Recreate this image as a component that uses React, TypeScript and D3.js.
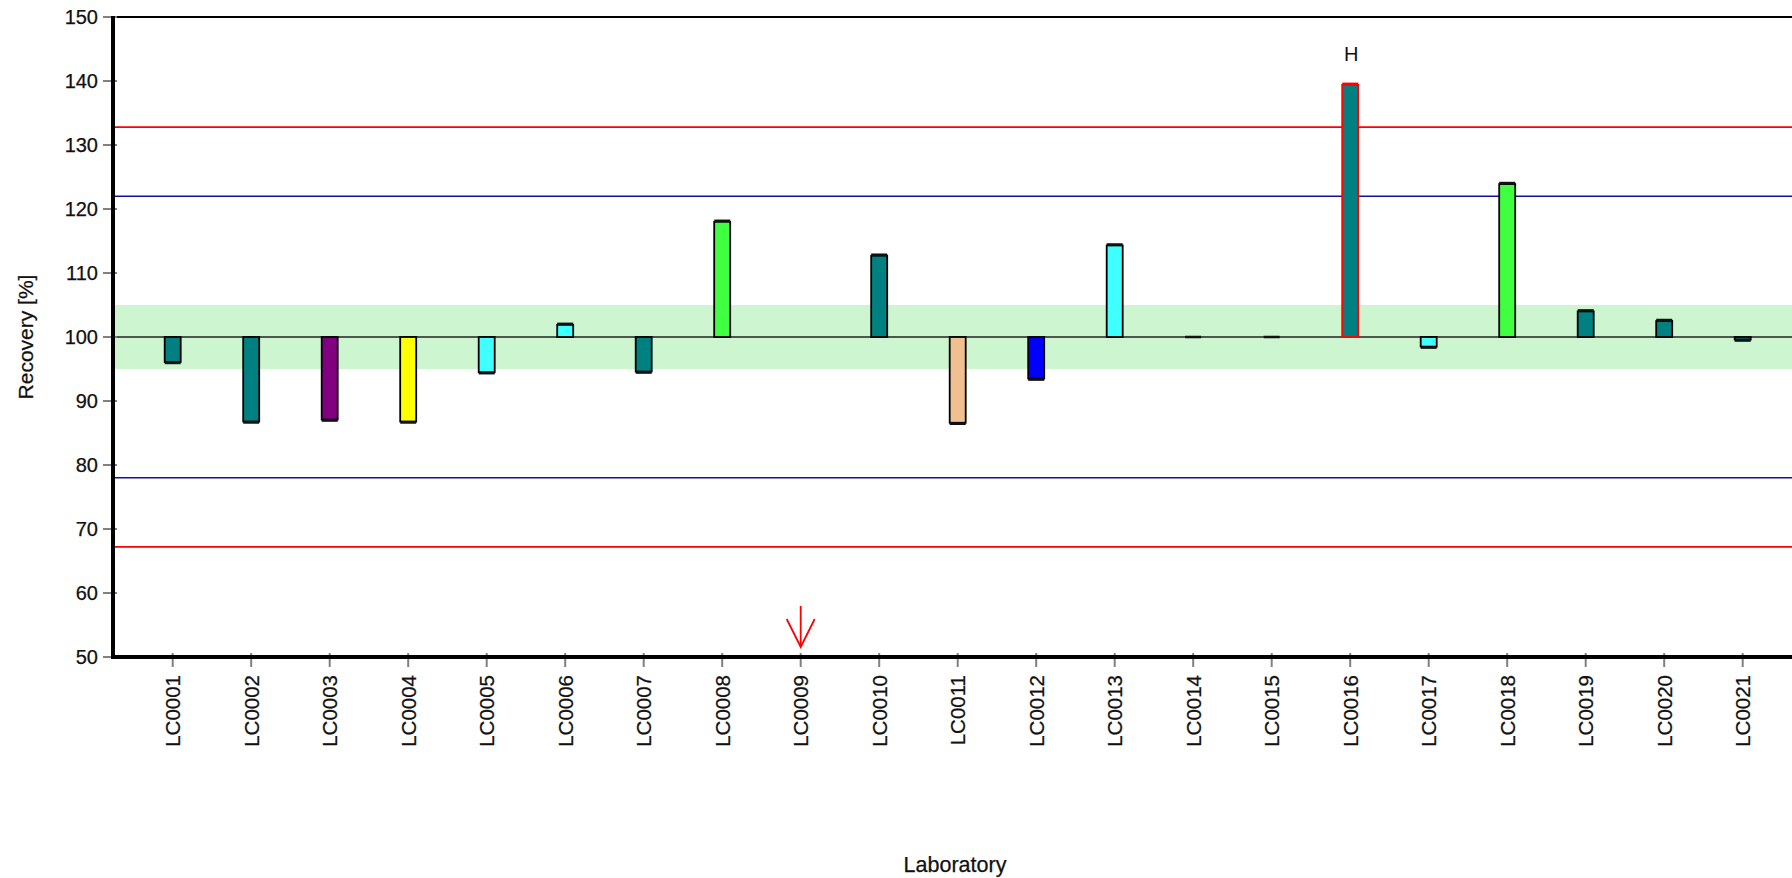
import React from "react";
import * as d3 from "d3";

const labs = ["LC0001","LC0002","LC0003","LC0004","LC0005","LC0006","LC0007","LC0008","LC0009","LC0010","LC0011","LC0012","LC0013","LC0014","LC0015","LC0016","LC0017","LC0018","LC0019","LC0020","LC0021"];
const recovery: (number | null)[] = [96.1, 86.8, 87.1, 86.8, 94.5, 101.9, 94.6, 118.0, null, 112.7, 86.6, 93.5, 114.3, 100.0, 100.0, 139.4, 98.5, 123.9, 104.0, 102.5, 99.6];
const barColors = ["#008080","#008080","#800080","#ffff00","#40ffff","#40ffff","#008080","#40ff40","#008080","#008080","#f0c090","#0000ff","#40ffff","#008080","#008080","#008080","#40ffff","#40ff40","#008080","#008080","#008080"];
const flags = ["","","","","","","","","","","","","","","","H","","","","",""];
const yTicks = [50, 60, 70, 80, 90, 100, 110, 120, 130, 140, 150];
const target = 100;
const band = [95, 105];
const warnLimits = [78, 122];
const actionLimits = [67.2, 132.8];

const W = 1792, H = 878;
const left = 113, top = 17, bottom = 657, right = 1792;
const font = "'Liberation Sans', Arial, sans-serif";

export default function App() {
  const y = d3.scaleLinear().domain([50, 150]).range([bottom, top]);
  const x = d3.scalePoint<string>().domain(labs).range([172.7, 1742.7]);
  const bw = 16;
  return (
    <svg width={W} height={H} style={{ position: "absolute", left: 0, top: 0, background: "#fff" }} fontFamily={font}>
      <rect x={left} y={y(band[1])} width={right - left} height={y(band[0]) - y(band[1])} fill="#cdf5d0" />
      {actionLimits.map((v, i) => (
        <line key={"a" + i} x1={left} x2={right} y1={y(v)} y2={y(v)} stroke="#ff0000" strokeWidth={1.6} />
      ))}
      {warnLimits.map((v, i) => (
        <line key={"w" + i} x1={left} x2={right} y1={y(v)} y2={y(v)} stroke="#1010a0" strokeWidth={1.6} />
      ))}
      <line x1={left} x2={right} y1={y(target)} y2={y(target)} stroke="#222" strokeWidth={1.4} />
      <line x1={left} x2={right} y1={top} y2={top} stroke="#000" strokeWidth={2} />
      {labs.map((l, i) => {
        const v = recovery[i];
        if (v === null) return null;
        const cx = x(l)!;
        const y0 = y(target), y1 = y(v);
        const stroke = flags[i] ? "#ff0000" : "#000";
        const off = v < target ? 1 : v > target ? -1 : 0;
        return (
          <g key={l}>
            <rect x={cx - bw / 2} y={Math.min(y0, y1)} width={bw} height={Math.abs(y1 - y0)} fill={barColors[i]} stroke={stroke} strokeWidth={1.8} />
            <line x1={cx - bw / 2} x2={cx + bw / 2} y1={y1 + off} y2={y1 + off} stroke={stroke === "#000" ? "#111" : stroke} strokeWidth={2.5} />
            {flags[i] && (
              <text x={cx + 1} y={y(v) - 24} textAnchor="middle" fontSize={20} fill="#111">{flags[i]}</text>
            )}
          </g>
        );
      })}
      {labs.map((l, i) => {
        if (recovery[i] !== null) return null;
        const cx = x(l)!;
        return (
          <g key={"arr" + l} stroke="#ff0000" strokeWidth={1.8} fill="none">
            <line x1={cx} x2={cx} y1={606} y2={bottom - 10} />
            <polyline points={`${cx - 14},${bottom - 38} ${cx},${bottom - 10} ${cx + 14},${bottom - 38}`} />
          </g>
        );
      })}
      {yTicks.map((t) => (
        <g key={"yt" + t}>
          <line x1={103} x2={117} y1={y(t)} y2={y(t)} stroke="#808080" strokeWidth={2} />
          <text x={98} y={y(t)} dy="0.36em" textAnchor="end" fontSize={20} fill="#111" stroke="#111" strokeWidth={0.25}>{t}</text>
        </g>
      ))}
      {labs.map((l) => (
        <g key={"xt" + l}>
          <line x1={x(l)!} x2={x(l)!} y1={653} y2={667} stroke="#808080" strokeWidth={2} />
          <text transform={`translate(${x(l)! + 7.5},675) rotate(-90)`} textAnchor="end" fontSize={20.5} fill="#111" stroke="#111" strokeWidth={0.25}>{l}</text>
        </g>
      ))}
      <line x1={left} x2={left} y1={top - 1} y2={bottom + 2} stroke="#000" strokeWidth={4} />
      <line x1={left - 2} x2={right} y1={bottom} y2={bottom} stroke="#000" strokeWidth={4} />
      <text transform={`translate(33,${(top + bottom) / 2}) rotate(-90)`} textAnchor="middle" fontSize={21} fill="#111" stroke="#111" strokeWidth={0.25}>Recovery [%]</text>
      <text x={955} y={871.5} textAnchor="middle" fontSize={21.5} fill="#111" stroke="#111" strokeWidth={0.25}>Laboratory</text>
    </svg>
  );
}
